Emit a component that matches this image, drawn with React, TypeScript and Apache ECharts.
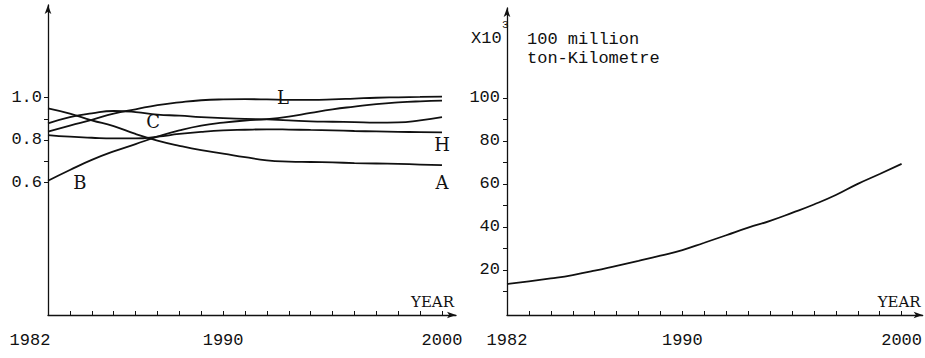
import { useEffect, useRef } from 'react';
import * as echarts from 'echarts';

const years = [1982, 1983, 1984, 1985, 1986, 1987, 1988, 1989, 1990, 1991, 1992, 1993, 1994, 1995, 1996, 1997, 1998, 1999, 2000];

const seriesA = [0.95, 0.925, 0.893, 0.865, 0.828, 0.797, 0.772, 0.751, 0.735, 0.718, 0.703, 0.697, 0.695, 0.693, 0.69, 0.688, 0.686, 0.683, 0.68];
const seriesB = [0.606, 0.657, 0.705, 0.745, 0.78, 0.815, 0.845, 0.868, 0.882, 0.892, 0.898, 0.91, 0.928, 0.945, 0.958, 0.97, 0.978, 0.983, 0.986];
const seriesC = [0.878, 0.908, 0.926, 0.937, 0.932, 0.92, 0.915, 0.908, 0.903, 0.9, 0.897, 0.893, 0.888, 0.886, 0.884, 0.882, 0.883, 0.893, 0.908];
const seriesH = [0.823, 0.815, 0.81, 0.807, 0.807, 0.815, 0.828, 0.838, 0.845, 0.848, 0.85, 0.849, 0.847, 0.845, 0.842, 0.84, 0.838, 0.837, 0.836];
const seriesL = [0.839, 0.868, 0.895, 0.925, 0.945, 0.965, 0.978, 0.988, 0.992, 0.993, 0.992, 0.99, 0.99, 0.992, 0.996, 1.0, 1.002, 1.004, 1.005];

const freight = [13.4, 14.6, 16.0, 17.6, 19.6, 21.9, 24.2, 26.6, 29.2, 32.6, 36.1, 39.6, 42.8, 46.5, 50.4, 54.8, 60.0, 64.6, 69.3];

const leftYLabels = [0.6, 0.8, 1.0];
const leftYTicks = [0.6, 0.7, 0.8, 0.9, 1.0];
const xLabels = [1982, 1990, 2000];
const rightYLabels = [20, 40, 60, 80, 100];
const rightYTicks = [10, 20, 30, 40, 50, 60, 70, 80, 90, 100];

const ink = '#111';
const mono = 'Liberation Mono';
const serif = 'DejaVu Serif';

const pairs = (vals: number[]) => years.map((y, i) => [y, vals[i]]);

function lineSeries(vals: number[], name: string, coord: number[], xi: number) {
  return {
    type: 'line',
    name,
    xAxisIndex: xi,
    yAxisIndex: xi,
    data: pairs(vals),
    smooth: true,
    symbol: 'none',
    lineStyle: { color: ink, width: 1.8 },
    markPoint: name
      ? {
          symbol: 'circle',
          symbolSize: 1,
          itemStyle: { color: 'rgba(0,0,0,0)' },
          label: {
            show: true,
            position: 'inside',
            formatter: '{b}',
            fontFamily: serif,
            fontSize: 18,
            color: ink,
          },
          data: [{ name, coord }],
        }
      : undefined,
  };
}

export default function App() {
  const ref = useRef<HTMLDivElement>(null);

  useEffect(() => {
    if (!ref.current) return;
    const chart = echarts.init(ref.current, undefined, { renderer: 'svg' });

    const axisLine = {
      show: true,
      onZero: false,
      symbol: ['none', 'arrow'],
      symbolSize: [5, 9],
      lineStyle: { color: ink, width: 1.3 },
    };

    const xAxisBase = (gi: number, max: number, leftShift: boolean) => ({
      gridIndex: gi,
      type: 'value',
      min: 1982,
      max,
      axisLine,
      splitLine: { show: false },
      axisTick: {
        show: true,
        inside: true,
        length: 4,
        customValues: years,
        lineStyle: { color: ink, width: 1 },
      },
      axisLabel: {
        show: true,
        customValues: xLabels,
        margin: 17,
        fontFamily: mono,
        fontSize: 17,
        color: ink,
        formatter: (v: number) => (leftShift && v === 1982 ? '{l|1982}' : String(v)),
        rich: {
          l: { padding: [0, 36, 0, 0], fontFamily: mono, fontSize: 17, color: ink },
        },
      },
      name: 'YEAR',
      nameLocation: 'end',
      nameGap: 0,
      nameTextStyle: {
        fontFamily: serif,
        fontSize: 15,
        color: ink,
        align: 'right',
        verticalAlign: 'bottom',
        padding: [0, 2, 6, 0],
      },
    });

    const option = {
      animation: false,
      backgroundColor: '#fff',
      grid: [
        { left: 48, top: 5, width: 408, height: 310 },
        { left: 507, top: 8, width: 416, height: 307 },
      ],
      xAxis: [xAxisBase(0, 2000.64, true), xAxisBase(1, 2000.96, false)],
      yAxis: [
        {
          gridIndex: 0,
          type: 'value',
          min: -0.031,
          max: 1.44,
          axisLine,
          splitLine: { show: false },
          axisTick: { show: true, length: 4, customValues: leftYTicks, lineStyle: { color: ink } },
          axisLabel: {
            show: true,
            customValues: leftYLabels,
            formatter: (v: number) => v.toFixed(1),
            margin: 6,
            fontFamily: mono,
            fontSize: 17,
            color: ink,
          },
        },
        {
          gridIndex: 1,
          type: 'value',
          min: -1,
          max: 141.8,
          axisLine,
          splitLine: { show: false },
          axisTick: { show: true, length: 4, customValues: rightYTicks, lineStyle: { color: ink } },
          axisLabel: {
            show: true,
            customValues: rightYLabels,
            margin: 7,
            fontFamily: mono,
            fontSize: 17,
            color: ink,
          },
        },
      ],
      series: [
        lineSeries(seriesA, 'A', [2000, 0.6], 0),
        lineSeries(seriesB, 'B', [1983.46, 0.6], 0),
        lineSeries(seriesC, 'C', [1986.8, 0.886], 0),
        lineSeries(seriesH, 'H', [2000, 0.776], 0),
        lineSeries(seriesL, 'L', [1992.73, 1.003], 0),
        lineSeries(freight, '', [0, 0], 1),
      ],
      graphic: [
        {
          type: 'text',
          x: 471,
          y: 38,
          style: { text: 'X10', font: `17px "${mono}"`, fill: ink, align: 'left', verticalAlign: 'middle' },
        },
        {
          type: 'text',
          x: 502,
          y: 25,
          style: { text: '3', font: `11px "${mono}"`, fill: ink, align: 'left', verticalAlign: 'middle' },
        },
        {
          type: 'text',
          x: 527,
          y: 39,
          style: { text: '100 million', font: `17px "${mono}"`, fill: ink, align: 'left', verticalAlign: 'middle' },
        },
        {
          type: 'text',
          x: 527,
          y: 58,
          style: { text: 'ton-Kilometre', font: `17px "${mono}"`, fill: ink, align: 'left', verticalAlign: 'middle' },
        },
      ],
    };

    chart.setOption(option as any);
    return () => chart.dispose();
  }, []);

  return (
    <div
      ref={ref}
      style={{ position: 'fixed', left: 0, top: 0, width: 925, height: 358, background: '#fff' }}
    />
  );
}
